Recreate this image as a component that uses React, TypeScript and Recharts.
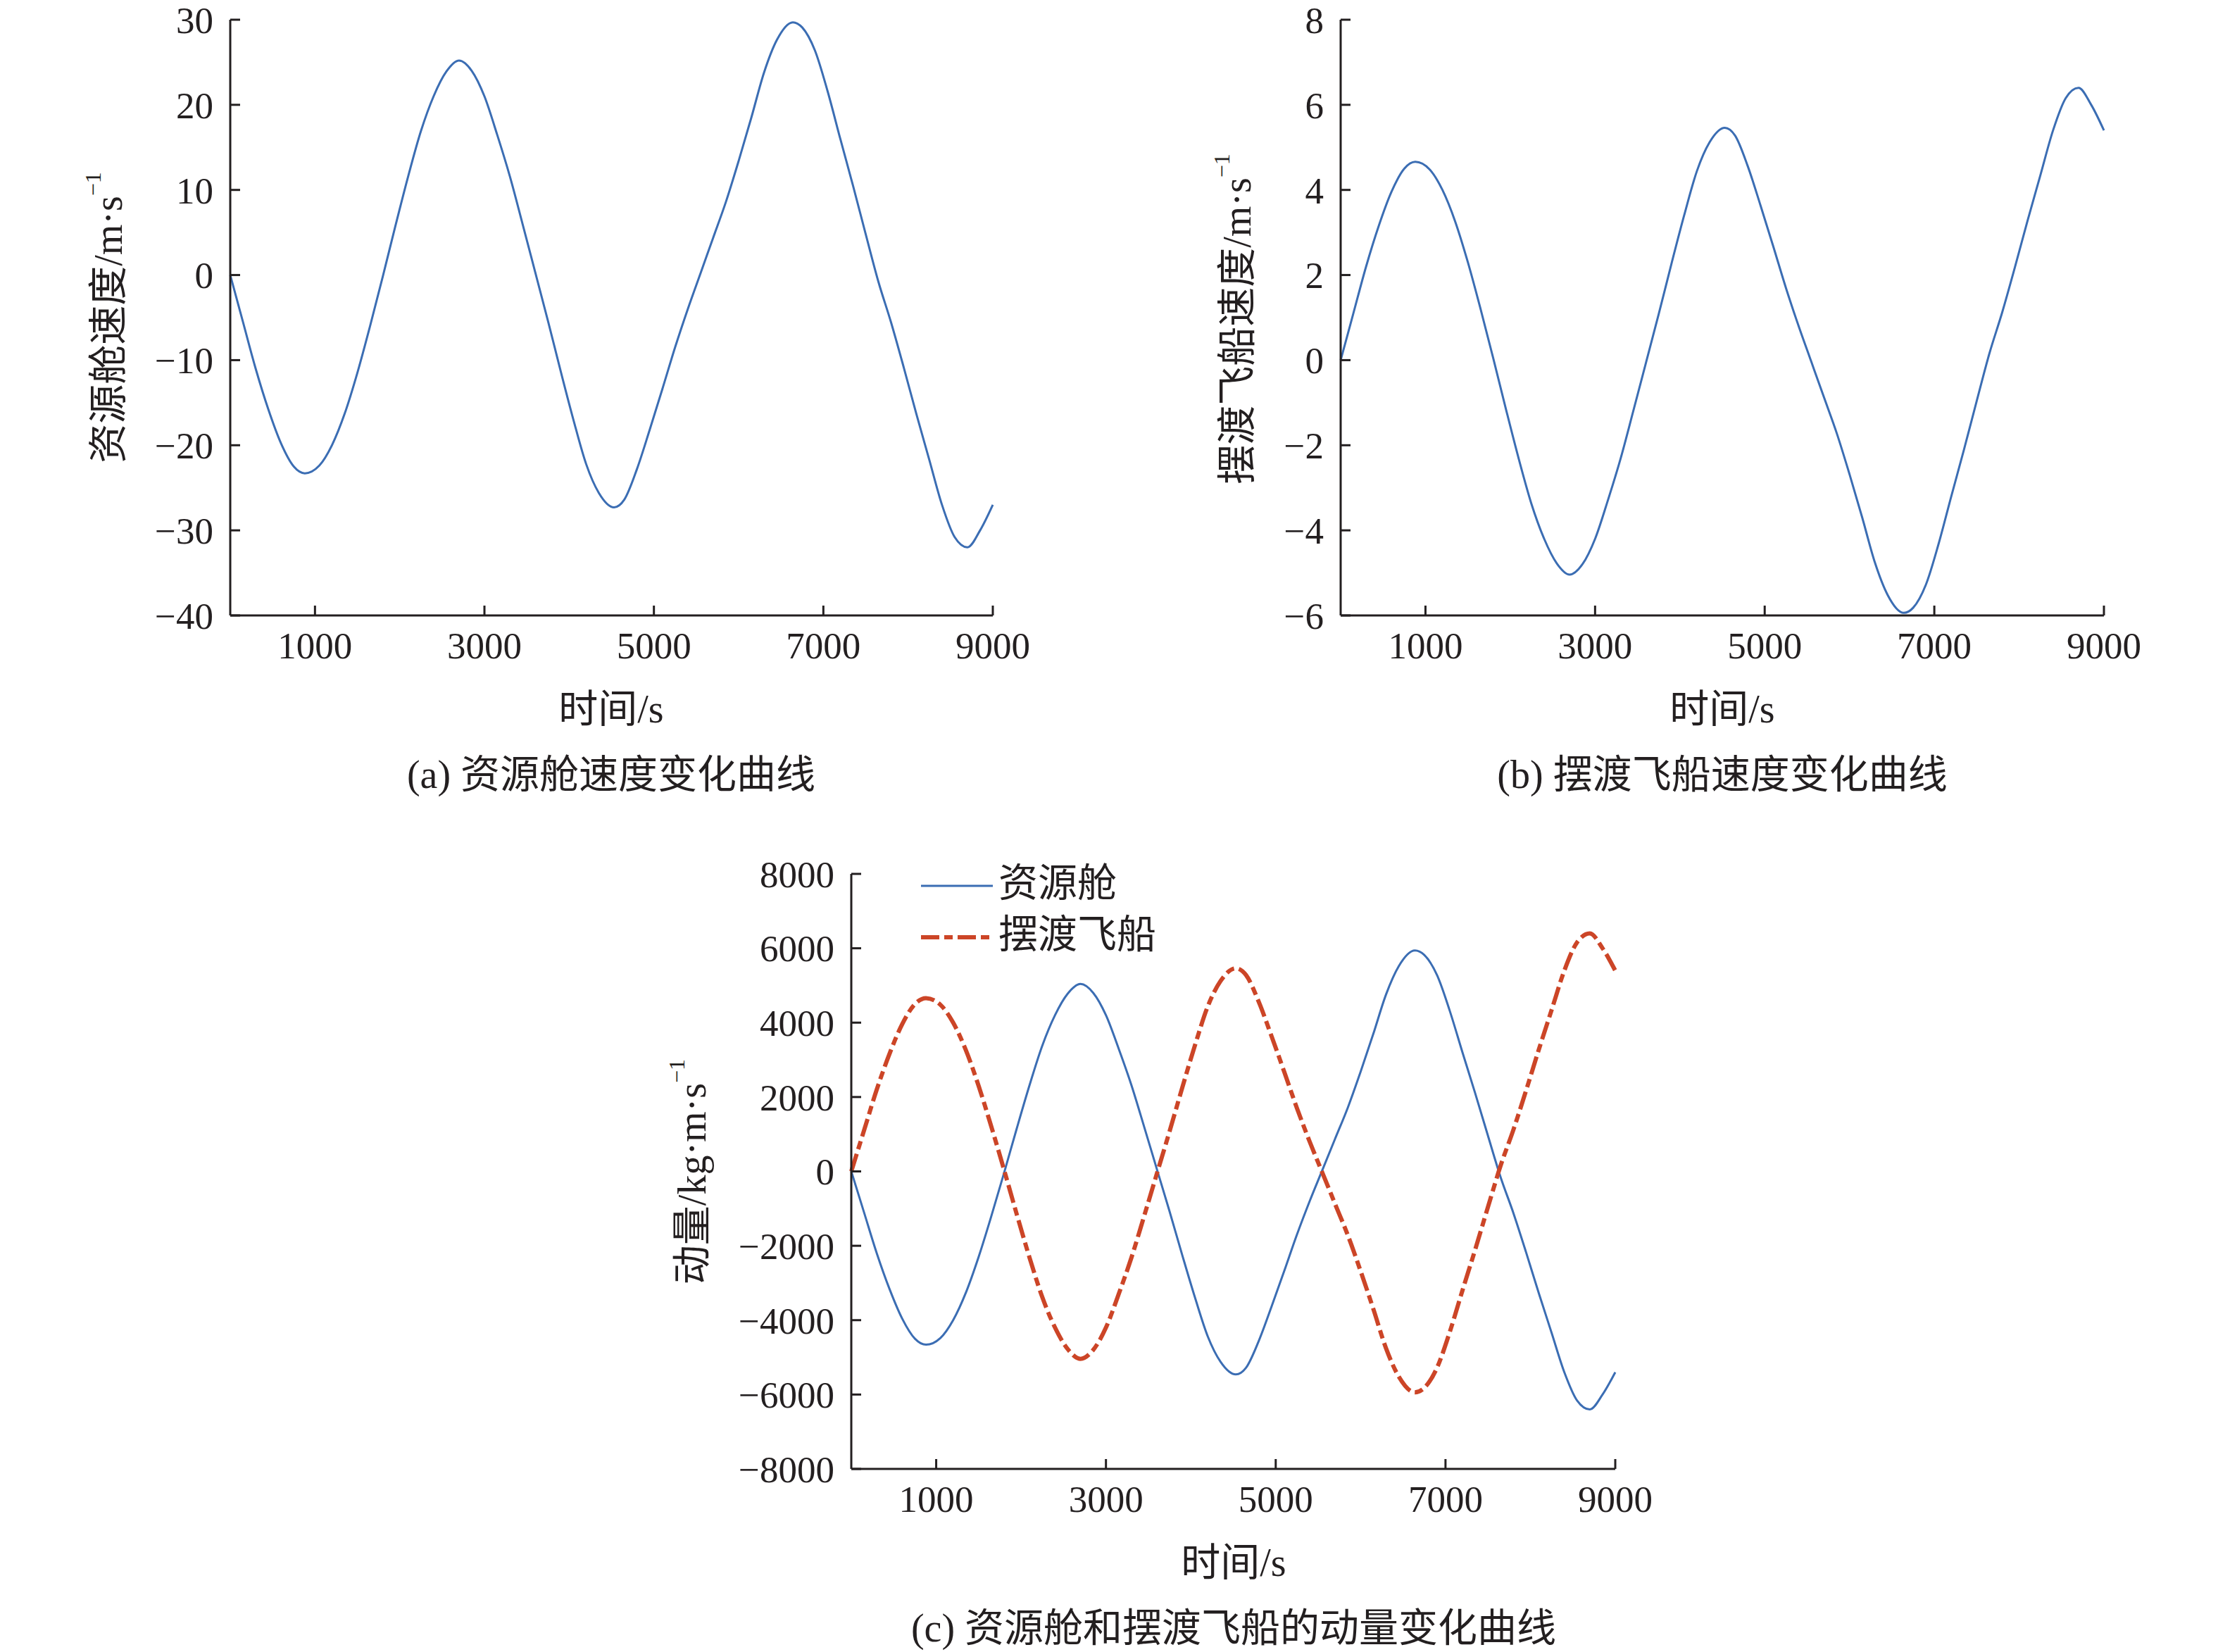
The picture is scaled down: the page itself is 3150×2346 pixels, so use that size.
import React from 'react';
import { LineChart, Line, XAxis, YAxis, Legend } from 'recharts';

// time samples (s)
const times = [
  0, 150, 300, 450, 600, 750, 880,
  1050, 1200, 1350, 1500, 1650, 1800,
  1950, 2100, 2250, 2400, 2550, 2700,
  2850, 3000, 3150, 3300, 3450, 3600,
  3750, 3900, 4050, 4200, 4350, 4530,
  4650, 4800, 4950, 5100, 5250, 5400,
  5550, 5700, 5850, 6000, 6150, 6300,
  6450, 6640, 6750, 6900, 7050, 7200,
  7350, 7500, 7650, 7800, 7950, 8100,
  8250, 8400, 8550, 8700, 8850, 9000,
];

// (a) 资源舱速度 m/s
const cabinVelocity = [
  0, -5.5, -11.0, -15.8, -19.8, -22.5, -23.3,
  -22.4, -20.0, -16.3, -11.5, -6.0, -0.2,
  5.8, 11.6, 16.9, 21.0, 23.9, 25.2,
  24.0, 21.0, 16.5, 11.6, 6.0, 0.3,
  -5.4, -11.3, -17.0, -22.2, -25.6, -27.3,
  -26.4, -22.8, -18.2, -13.4, -8.5, -4.0,
  0.2, 4.4, 8.6, 13.4, 18.5, 23.8,
  27.6, 29.7, 29.1, 26.4, 21.6, 16.0,
  10.5, 4.8, -0.8, -5.6, -10.9, -16.4,
  -21.7, -27.0, -30.8, -32.0, -30.0, -27.0,
];

// (b) 摆渡飞船速度 m/s
const ferryVelocity = [
  0, 1.1, 2.2, 3.16, 3.96, 4.5, 4.66,
  4.48, 4.0, 3.26, 2.3, 1.2, 0.04,
  -1.16, -2.32, -3.38, -4.2, -4.78, -5.04,
  -4.8, -4.2, -3.3, -2.32, -1.2, -0.06,
  1.08, 2.26, 3.4, 4.44, 5.12, 5.46,
  5.28, 4.56, 3.64, 2.68, 1.7, 0.8,
  -0.04, -0.88, -1.72, -2.68, -3.7, -4.76,
  -5.52, -5.94, -5.82, -5.28, -4.32, -3.2,
  -2.1, -0.96, 0.16, 1.12, 2.18, 3.28,
  4.34, 5.4, 6.16, 6.4, 6.0, 5.4,
];

// (c) 动量 kg·m/s
const cabinMomentum = [
  0, -1100, -2200, -3160, -3960, -4500, -4660,
  -4480, -4000, -3260, -2300, -1200, -40,
  1160, 2320, 3380, 4200, 4780, 5040,
  4800, 4200, 3300, 2320, 1200, 60,
  -1080, -2260, -3400, -4440, -5120, -5460,
  -5280, -4560, -3640, -2680, -1700, -800,
  40, 880, 1720, 2680, 3700, 4760,
  5520, 5940, 5820, 5280, 4320, 3200,
  2100, 960, -160, -1120, -2180, -3280,
  -4340, -5400, -6160, -6400, -6000, -5400,
];
const ferryMomentum = [
  0, 1100, 2200, 3160, 3960, 4500, 4660,
  4480, 4000, 3260, 2300, 1200, 40,
  -1160, -2320, -3380, -4200, -4780, -5040,
  -4800, -4200, -3300, -2320, -1200, -60,
  1080, 2260, 3400, 4440, 5120, 5460,
  5280, 4560, 3640, 2680, 1700, 800,
  -40, -880, -1720, -2680, -3700, -4760,
  -5520, -5940, -5820, -5280, -4320, -3200,
  -2100, -960, 160, 1120, 2180, 3280,
  4340, 5400, 6160, 6400, 6000, 5400,
];

const xTicks = [1000, 3000, 5000, 7000, 9000];
const yTicksA = [-40, -30, -20, -10, 0, 10, 20, 30];
const yTicksB = [-6, -4, -2, 0, 2, 4, 6, 8];
const yTicksC = [-8000, -6000, -4000, -2000, 0, 2000, 4000, 6000, 8000];

const seriesNames = ['资源舱', '摆渡飞船'];

const INK = '#231f20';
const BLUE = '#3b6db3';
const RED = '#cc4527';
const SERIF = '"Liberation Serif", "Times New Roman", serif';
const MIXED = '"Liberation Serif", "Noto Sans CJK SC", serif';

const dataA = times.map((t, i) => ({ t, v: cabinVelocity[i] }));
const dataB = times.map((t, i) => ({ t, v: ferryVelocity[i] }));
const dataC = times.map((t, i) => ({ t, cabin: cabinMomentum[i], ferry: ferryMomentum[i] }));

const fmt = (v: number) => String(v).replace('-', '\u2212');

const axisLine = { stroke: INK, strokeWidth: 3 };
const tickStyle = { fill: INK, fontSize: 53, fontFamily: SERIF };

function xAxisLabel(cx: number, axisY: number, caption: string) {
  return () => (
    <g>
      <text x={cx} y={axisY + 133} textAnchor="middle" dominantBaseline="central" fill={INK} fontSize={56} fontFamily={MIXED}>
        时间/s
      </text>
      <text x={cx} y={axisY + 226} textAnchor="middle" dominantBaseline="central" fill={INK} fontSize={56} fontFamily={MIXED}>
        {caption}
      </text>
    </g>
  );
}

function yAxisLabel(cx: number, cy: number, title: string) {
  return () => (
    <text
      x={cx}
      y={cy}
      transform={`rotate(-90 ${cx} ${cy})`}
      textAnchor="middle"
      dominantBaseline="central"
      fill={INK}
      fontSize={56}
      fontFamily={MIXED}
    >
      {title}
      <tspan fontSize={32} dy={-22}>{'\u22121'}</tspan>
    </text>
  );
}

const renderLegend = (props: any) => {
  const payload = [...(props.payload || [])].sort(
    (p: any, q: any) => seriesNames.indexOf(p.value) - seriesNames.indexOf(q.value)
  );
  return (
    <svg width={560} height={170} style={{ display: 'block' }}>
      {payload.map((entry: any, i: number) => {
        const y = 48 + i * 73;
        const dash = entry.payload && entry.payload.strokeDasharray;
        const sw = entry.payload && entry.payload.strokeWidth;
        return (
          <g key={i}>
            <line x1={10} x2={112} y1={y} y2={y} stroke={entry.color} strokeWidth={sw} strokeDasharray={dash} />
            <text x={120} y={y - 4} dominantBaseline="central" fill={INK} fontSize={56} fontFamily={MIXED}>
              {entry.value}
            </text>
          </g>
        );
      })}
    </svg>
  );
};

export default function App() {
  return (
    <div style={{ position: 'absolute', left: 0, top: 0, width: 3150, height: 2346, background: '#ffffff' }}>
      {/* (a) */}
      <div style={{ position: 'absolute', left: 0, top: 0 }}>
        <LineChart width={1560} height={1150} data={dataA} margin={{ top: 28, right: 150, bottom: 0, left: 0 }}>
          <XAxis
            dataKey="t"
            type="number"
            domain={[0, 9000]}
            ticks={xTicks}
            interval={0}
            height={276}
            tickSize={-14}
            tickMargin={37}
            axisLine={axisLine}
            tickLine={axisLine}
            tick={tickStyle}
            label={xAxisLabel(868, 874, '(a) 资源舱速度变化曲线')}
          />
          <YAxis
            type="number"
            domain={[-40, 30]}
            ticks={yTicksA}
            interval={0}
            width={327}
            tickSize={-14}
            tickMargin={38}
            axisLine={axisLine}
            tickLine={axisLine}
            tick={tickStyle}
            tickFormatter={fmt}
            label={yAxisLabel(154, 451, '资源舱速度/m·s')}
          />
          <Line dataKey="v" type="monotone" stroke={BLUE} strokeWidth={3} dot={false} activeDot={false} isAnimationActive={false} />
        </LineChart>
      </div>

      {/* (b) */}
      <div style={{ position: 'absolute', left: 1575, top: 0 }}>
        <LineChart width={1575} height={1150} data={dataB} margin={{ top: 28, right: 162, bottom: 0, left: 0 }}>
          <XAxis
            dataKey="t"
            type="number"
            domain={[0, 9000]}
            ticks={xTicks}
            interval={0}
            height={276}
            tickSize={-14}
            tickMargin={37}
            axisLine={axisLine}
            tickLine={axisLine}
            tick={tickStyle}
            label={xAxisLabel(871, 874, '(b) 摆渡飞船速度变化曲线')}
          />
          <YAxis
            type="number"
            domain={[-6, 8]}
            ticks={yTicksB}
            interval={0}
            width={329}
            tickSize={-14}
            tickMargin={38}
            axisLine={axisLine}
            tickLine={axisLine}
            tick={tickStyle}
            tickFormatter={fmt}
            label={yAxisLabel(182, 453, '摆渡飞船速度/m·s')}
          />
          <Line dataKey="v" type="monotone" stroke={BLUE} strokeWidth={3} dot={false} activeDot={false} isAnimationActive={false} />
        </LineChart>
      </div>

      {/* (c) */}
      <div style={{ position: 'absolute', left: 0, top: 1150 }}>
        <LineChart width={3150} height={1196} data={dataC} margin={{ top: 91, right: 856, bottom: 0, left: 0 }}>
          <XAxis
            dataKey="t"
            type="number"
            domain={[0, 9000]}
            ticks={xTicks}
            interval={0}
            height={260}
            tickSize={-14}
            tickMargin={37}
            axisLine={axisLine}
            tickLine={axisLine}
            tick={tickStyle}
            label={xAxisLabel(1752, 936, '(c) 资源舱和摆渡飞船的动量变化曲线')}
          />
          <YAxis
            type="number"
            domain={[-8000, 8000]}
            ticks={yTicksC}
            interval={0}
            width={1209}
            tickSize={-14}
            tickMargin={38}
            axisLine={axisLine}
            tickLine={axisLine}
            tick={tickStyle}
            tickFormatter={fmt}
            label={yAxisLabel(983, 514, '动量/kg·m·s')}
          />
          <Legend
            layout="vertical"
            align="center"
            verticalAlign="middle"
            content={renderLegend}
            wrapperStyle={{ position: 'absolute', left: 1298, top: 60, width: 560, height: 170 }}
          />
          <Line
            name={seriesNames[0]}
            dataKey="cabin"
            type="monotone"
            stroke={BLUE}
            strokeWidth={3}
            dot={false}
            activeDot={false}
            isAnimationActive={false}
          />
          <Line
            name={seriesNames[1]}
            dataKey="ferry"
            type="monotone"
            stroke={RED}
            strokeWidth={6}
            strokeDasharray="26 7 12 7"
            dot={false}
            activeDot={false}
            isAnimationActive={false}
          />
        </LineChart>
      </div>
    </div>
  );
}
